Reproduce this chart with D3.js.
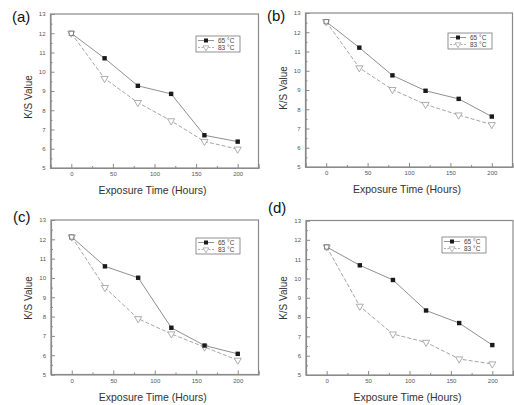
<!DOCTYPE html>
<html>
<head>
<meta charset="utf-8">
<script src="https://cdn.jsdelivr.net/npm/d3@7"></script>
<style>
  body { margin: 0; background: #fff; }
  svg { font-family: "Liberation Sans", Arial, sans-serif; }
</style>
</head>
<body>
<svg id="chart" width="514" height="405"></svg>
<script>
// exposure times (hours)
const hours = [0, 40, 80, 120, 160, 200];
const seriesNames = ["65 \u00B0C", "83 \u00B0C"];
const xTicks = [0, 50, 100, 150, 200];
const yTicks = [5, 6, 7, 8, 9, 10, 11, 12, 13];

// K/S values
const a65 = [12.0, 10.7, 9.27, 8.85, 6.7, 6.37];
const a83 = [12.0, 9.65, 8.4, 7.45, 6.38, 5.98];
const b65 = [12.55, 11.2, 9.76, 8.96, 8.54, 7.62];
const b83 = [12.55, 10.15, 9.02, 8.25, 7.7, 7.2];
const c65 = [12.12, 10.6, 10.01, 7.42, 6.5, 6.07];
const c83 = [12.12, 9.5, 7.89, 7.1, 6.42, 5.74];
const d65 = [11.63, 10.68, 9.92, 8.34, 7.69, 6.55];
const d83 = [11.63, 8.56, 7.12, 6.69, 5.83, 5.57];

const panels = [
  { tag: "(a)", s65: a65, s83: a83, left: 50.5, top: 14, right: 258.5, bottom: 168,
    tagX: 12, tagY: 22, legX: 196, legY: 36, ytitleY: 97 },
  { tag: "(b)", s65: b65, s83: b83, left: 305.5, top: 13, right: 512.5, bottom: 167,
    tagX: 267, tagY: 21, legX: 448, legY: 33, ytitleY: 88 },
  { tag: "(c)", s65: c65, s83: c83, left: 51, top: 220, right: 258.5, bottom: 374.5,
    tagX: 13, tagY: 222, legX: 196, legY: 238, ytitleY: 298 },
  { tag: "(d)", s65: d65, s83: d83, left: 306, top: 220.5, right: 513, bottom: 375,
    tagX: 268, tagY: 213, legX: 442, legY: 237, ytitleY: 298 }
];

const svg = d3.select("#chart");
const axisCol = "#8a8a8a";

function drawPanel(p) {
  const x = d3.scaleLinear().domain([-25, 225]).range([p.left, p.right]);
  const y = d3.scaleLinear().domain([5, 13]).range([p.bottom, p.top]);
  const g = svg.append("g");

  // frame
  g.append("rect")
    .attr("x", p.left).attr("y", p.top)
    .attr("width", p.right - p.left).attr("height", p.bottom - p.top)
    .attr("fill", "none").attr("stroke", axisCol).attr("stroke-width", 1.2);

  // bottom axis, ticks inside
  g.append("g")
    .attr("transform", "translate(0," + p.bottom + ")")
    .call(d3.axisBottom(x).tickValues(xTicks).tickSize(-4).tickPadding(4));
  g.append("g")
    .attr("transform", "translate(0," + p.bottom + ")")
    .call(d3.axisBottom(x).tickValues([-25, 25, 75, 125, 175, 225]).tickSize(-2).tickFormat(""))
    .select(".domain").remove();

  g.append("g")
    .attr("transform", "translate(" + p.left + ",0)")
    .call(d3.axisLeft(y).tickValues(yTicks).tickSize(-4).tickPadding(5));
  g.append("g")
    .attr("transform", "translate(" + p.left + ",0)")
    .call(d3.axisLeft(y).tickValues(d3.range(5.5, 13, 1)).tickSize(-2).tickFormat(""))
    .select(".domain").remove();

  g.selectAll(".domain").attr("stroke", axisCol).attr("stroke-width", 1.2);
  g.selectAll(".tick line").attr("stroke", axisCol);
  g.selectAll(".tick text").attr("fill", "#555").attr("font-size", 6);

  // titles
  g.append("text")
    .attr("x", (p.left + p.right) / 2 - 2).attr("y", p.bottom + 26)
    .attr("text-anchor", "middle").attr("font-size", 10.5).attr("fill", "#333")
    .text("Exposure Time (Hours)");
  g.append("text")
    .attr("transform", "translate(" + (p.left - 19) + "," + p.ytitleY + ") rotate(-90)")
    .attr("text-anchor", "middle").attr("font-size", 10).attr("fill", "#333")
    .text("K/S Value");
  g.append("text")
    .attr("x", p.tagX).attr("y", p.tagY)
    .attr("font-size", 15).attr("fill", "#111")
    .text(p.tag);

  const line = d3.line().x((d, i) => x(hours[i])).y(d => y(d));

  // 83 series: dashed, hollow triangles
  g.append("path").datum(p.s83)
    .attr("d", line).attr("fill", "none")
    .attr("stroke", "#a5a5a5").attr("stroke-width", 1).attr("stroke-dasharray", "4,2");
  // 65 series: solid, black squares
  g.append("path").datum(p.s65)
    .attr("d", line).attr("fill", "none")
    .attr("stroke", "#8f8f8f").attr("stroke-width", 1);

  const tri = d3.symbol().type(d3.symbolTriangle).size(22);
  g.selectAll(".t").data(p.s83).enter().append("path")
    .attr("transform", (d, i) => "translate(" + x(hours[i]) + "," + y(d) + ") rotate(180)")
    .attr("d", tri).attr("fill", "#fff").attr("stroke", "#999").attr("stroke-width", 0.8);
  g.selectAll(".s").data(p.s65).enter().append("rect")
    .attr("x", (d, i) => x(hours[i]) - 2.2).attr("y", d => y(d) - 2.2)
    .attr("width", 4.4).attr("height", 4.4)
    .attr("fill", (d, i) => i === 0 ? "none" : "#1a1a1a")
    .attr("stroke", (d, i) => i === 0 ? "#777" : "none").attr("stroke-width", 0.8);

  // legend
  const lg = g.append("g").attr("transform", "translate(" + p.legX + "," + p.legY + ")");
  lg.append("rect").attr("width", 44).attr("height", 16)
    .attr("fill", "#fff").attr("stroke", "#777").attr("stroke-width", 0.8);
  lg.append("line").attr("x1", 2).attr("x2", 18).attr("y1", 4.5).attr("y2", 4.5)
    .attr("stroke", "#777").attr("stroke-width", 0.8);
  lg.append("rect").attr("x", 8).attr("y", 2.5).attr("width", 4).attr("height", 4).attr("fill", "#1a1a1a");
  lg.append("line").attr("x1", 2).attr("x2", 18).attr("y1", 11.5).attr("y2", 11.5)
    .attr("stroke", "#999").attr("stroke-width", 0.8).attr("stroke-dasharray", "2,1.5");
  lg.append("path").attr("d", d3.symbol().type(d3.symbolTriangle).size(14))
    .attr("transform", "translate(10,11.5) rotate(180)")
    .attr("fill", "#fff").attr("stroke", "#999").attr("stroke-width", 0.7);
  lg.selectAll(".lt").data(seriesNames).enter().append("text")
    .attr("x", 22).attr("y", (d, i) => 6.5 + i * 7)
    .attr("font-size", 6.5).attr("fill", "#444").text(d => d);
}

panels.forEach(drawPanel);
</script>
</body>
</html>
